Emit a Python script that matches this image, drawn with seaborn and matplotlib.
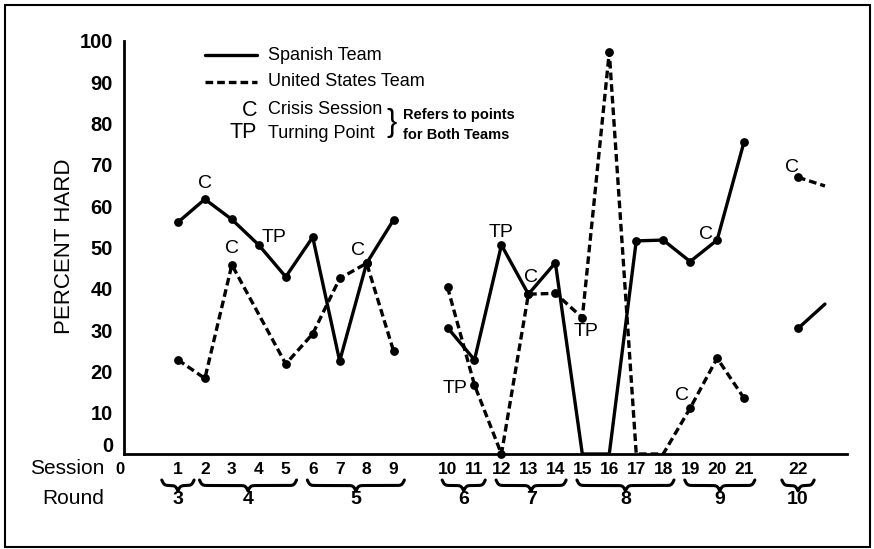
"""
Percent hard statements per negotiation session, Spanish vs United States team.
"""

import numpy as np
import pandas as pd
import matplotlib
matplotlib.use("Agg")
import matplotlib.pyplot as plt
import seaborn as sns
from matplotlib.lines import Line2D
from matplotlib.patches import Rectangle
from matplotlib.transforms import ScaledTranslation

# ---- data -------------------------------------------------------------
sessions = list(range(1, 23))
spanish = [56.1, 61.7, 56.8, 50.6, 42.9, 52.5, 22.5, 46.2, 56.7,
           30.6, 22.8, 50.6, 38.7, 46.3, 0, 0, 51.6, 51.8, 46.6, 51.8, 75.6,
           30.4]
us = [22.8, 18.3, 45.8, np.nan, 21.8, 29.1, 42.5, 46.2, 24.9,
      40.4, 16.7, 0, 38.7, 38.9, 33.0, 97.3, 0, 0, 11.1, 23.2, 13.5,
      67.0]
# the session 22 lines run on past the last session
spanish_next = 36.3
us_next = 64.9
# sessions drawn without a dot
spanish_no_dot = [15, 16]
us_no_dot = [17, 18]
# lines break after these sessions
breaks_after = [9, 21]

rounds = [3, 4, 5, 6, 7, 8, 9, 10]
round_first = [1, 2, 6, 10, 12, 15, 19, 22]
round_last = [1, 5, 9, 11, 14, 18, 21, 22]

note_text = ["C", "C", "TP", "C", "TP", "TP", "C", "TP", "C", "C", "C"]
note_session = [2, 3, 4, 8, 11, 12, 13, 15, 19, 20, 22]
note_team = ["Spanish", "US", "Spanish", "US", "US", "Spanish",
             "Spanish", "US", "US", "Spanish", "US"]

# ---- style ------------------------------------------------------------
sns.set_theme(style="white")
plt.rcParams["font.family"] = ["Liberation Sans", "DejaVu Sans"]
plt.rcParams["text.color"] = "black"

W, H = 874, 549


def fx(px):
    return px / W


def fy(py):
    return 1 - py / H


fig = plt.figure(figsize=(W / 100, H / 100), dpi=100)
ax = fig.add_axes([fx(124), 95 / H, 723 / W, 413 / H])
ax_h = 413

# x position of each session (gaps where the lines break)
pos = [s + 1 + sum(s > b for b in breaks_after) for s in sessions]
seg = [sum(s > b for b in breaks_after) for s in sessions]

rows = []
for team, vals, nxt, no_dot in [("Spanish", spanish, spanish_next, spanish_no_dot),
                                ("US", us, us_next, us_no_dot)]:
    for s, p, g, v in zip(sessions, pos, seg, vals):
        rows.append(dict(team=team, session=s, pos=p, seg=g, value=v,
                         dot=s not in no_dot))
    rows.append(dict(team=team, session=23, pos=pos[-1] + 1, seg=seg[-1],
                     value=nxt, dot=False))
df = pd.DataFrame(rows).dropna(subset=["value"])
df["unit"] = df["team"] + df["seg"].astype(str)

dash = (2.3, 1.2)
sns.lineplot(data=df, x="pos", y="value", style="team", units="unit",
             estimator=None, sort=False,
             dashes={"Spanish": "", "US": dash}, color="black", lw=2.4,
             legend=False, ax=ax)
sns.scatterplot(data=df[df["dot"]], x="pos", y="value", color="black", s=40,
                linewidth=0, zorder=4, clip_on=False, legend=False, ax=ax)

# C / TP marks
note_offset = [(0, 16), (0, 16), (15, 8), (-9, 13), (-19, -3), (0, 13),
               (3, 17), (4, -14), (-8, 13), (-11, 6), (-6, 10)]
for txt, s, team, off in zip(note_text, note_session, note_team, note_offset):
    vals = spanish if team == "Spanish" else us
    ax.annotate(txt, (pos[s - 1], vals[s - 1]), xytext=off,
                textcoords="offset pixels", ha="center", va="center",
                fontsize=14)

# axes
ax.set_xlim(0, 723 / 26.96)
ax.set_ylim(0, 100)
ax.set_xticks(range(1, 26))
ax.set_yticks(range(0, 101, 10))
ax.set_xlabel("")
ax.set_ylabel("")
ax.tick_params(axis="x", direction="in", length=6.5, width=1.3,
               labelbottom=False, color="black")
ax.tick_params(axis="y", direction="in", length=6.5, width=1.3, pad=8,
               labelsize=14.5, color="black", labelcolor="black")
for lbl in ax.get_yticklabels():
    lbl.set_fontweight("bold")
zero = ax.get_yticklabels()[0]
zero.set_transform(zero.get_transform()
                   + ScaledTranslation(0, 9 / 100, fig.dpi_scale_trans))
sns.despine(ax=ax)
for side in ["left", "bottom"]:
    ax.spines[side].set_linewidth(2)
    ax.spines[side].set_color("black")

fig.text(fx(65), fy(246), "PERCENT HARD", rotation=90, ha="center",
         va="center", fontsize=16)

# session / round rows
xt = ax.get_xaxis_transform()
y_sess = -(469 - 454) / ax_h
y_round = -(499 - 454) / ax_h
fig.text(fx(104), fy(469), "Session", ha="right", va="center", fontsize=15)
fig.text(fx(104), fy(499), "Round", ha="right", va="center", fontsize=15)
ax.text(-0.15, y_sess, "0", transform=xt, ha="center", va="center",
        fontsize=12, fontweight="bold")
for s, p in zip(sessions, pos):
    ax.text(p, y_sess, str(s), transform=xt, ha="center", va="center",
            fontsize=12.5, fontweight="bold")


def brace(x0, x1, top, height, beta=22):
    x = np.linspace(x0, x1, 201)
    half = x[:101]
    yh = (1 / (1 + np.exp(-beta * (half - half[0])))
          + 1 / (1 + np.exp(-beta * (half - half[-1]))))
    yb = np.concatenate([yh, yh[-2::-1]])
    ax.plot(x, top - height * (yb - 0.5), color="black", lw=2.2,
            transform=xt, clip_on=False, solid_capstyle="round")


b_top = -(480 - 454) / ax_h
b_h = 11 / ax_h
for r, a, b in zip(rounds, round_first, round_last):
    pa, pb = pos[a - 1], pos[b - 1]
    if a == b:
        x0, x1 = pa - 0.6, pb + 0.6
    else:
        x0, x1 = pa - 0.2, pb + 0.4
    brace(x0, x1, b_top, b_h)
    ax.text((x0 + x1) / 2, y_round, str(r), transform=xt, ha="center",
            va="center", fontsize=14, fontweight="bold")

# key
ft = fig.transFigure
fig.add_artist(Line2D([fx(205), fx(257)], [fy(55), fy(55)], color="black",
                      lw=2.4, transform=ft))
fig.add_artist(Line2D([fx(205), fx(257)], [fy(82), fy(82)], color="black",
                      lw=2.4, dashes=dash, transform=ft))
fig.text(fx(268), fy(55), "Spanish Team", va="center", fontsize=13)
fig.text(fx(268), fy(82), "United States Team", va="center", fontsize=13)
fig.text(fx(257), fy(110), "C", ha="right", va="center", fontsize=15.5)
fig.text(fx(268), fy(110), "Crisis Session", va="center", fontsize=13)
fig.text(fx(257), fy(133), "TP", ha="right", va="center", fontsize=15.5)
fig.text(fx(268), fy(133), "Turning Point", va="center", fontsize=13)
fig.text(fx(392), fy(123), "}", ha="center", va="center", fontsize=22)
fig.text(fx(403), fy(115), "Refers to points", va="center", fontsize=10.5,
         fontweight="bold")
fig.text(fx(403), fy(135), "for Both Teams", va="center", fontsize=10.5,
         fontweight="bold")

# outer frame
fig.add_artist(Rectangle((fx(5), fy(547)), fx(870) - fx(5), fy(5) - fy(547),
                         transform=ft, fill=False, lw=1.5, color="black"))

fig.savefig("out.png", dpi=100)
